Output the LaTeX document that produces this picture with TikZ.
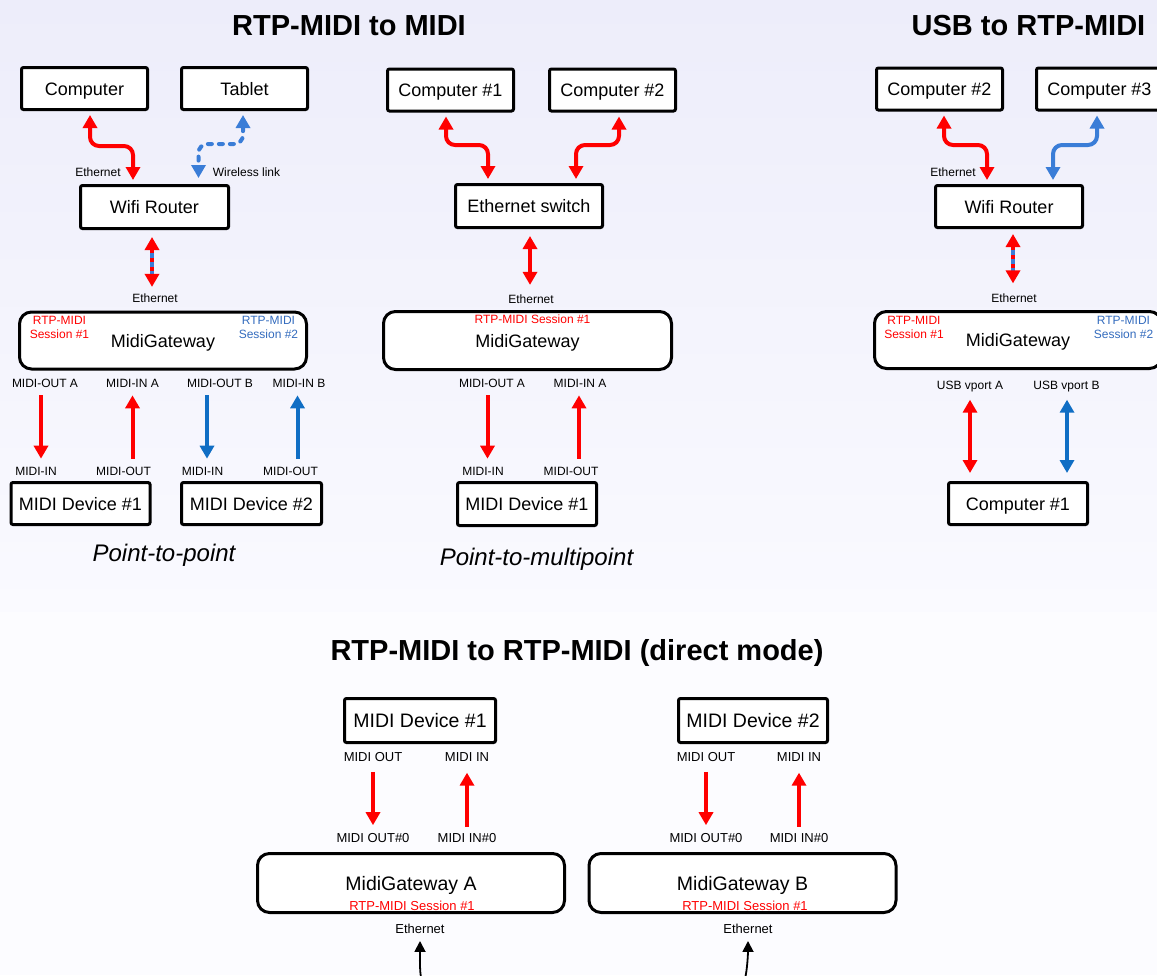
\documentclass[tikz,border=0pt]{standalone}
\usepackage{fontspec}
\setmainfont{Liberation Sans}
\usetikzlibrary{arrows.meta}
\definecolor{midired}{RGB}{255,0,0}
\definecolor{linkblue}{RGB}{58,125,215}
\definecolor{portblue}{RGB}{16,110,196}
\definecolor{sessblue}{RGB}{52,108,190}
\definecolor{bgtop}{RGB}{237,237,250}
\definecolor{bgmid}{RGB}{250,250,255}
\definecolor{bgbot}{RGB}{252,252,255}

\begin{document}
\begin{tikzpicture}[x=1pt, y=-1pt, >={Triangle[width=14pt,length=13pt]},
    box/.style={draw, line width=3pt, fill=white, rounded corners=2pt, inner sep=0pt,
      minimum width=126pt, minimum height=42pt, text height=13pt, text depth=0pt,
      font=\fontsize{18}{21}\selectfont},
    bigbox/.style={box, minimum height=44pt, text height=14pt, font=\fontsize{19.5}{23}\selectfont},
    gateway/.style={draw, line width=3pt, fill=white, rounded corners=12pt, inner sep=0pt,
      minimum width=287pt, minimum height=57pt, text height=13pt, text depth=0pt,
      font=\fontsize{18}{21}\selectfont},
    biggateway/.style={gateway, minimum width=307pt, minimum height=59pt, text height=14pt,
      font=\fontsize{19.5}{23}\selectfont},
    lbl/.style={inner sep=0pt, font=\fontsize{12}{14}\selectfont},
    lblb/.style={inner sep=0pt, font=\fontsize{13}{15}\selectfont},
    session/.style={lbl, align=center},
    title/.style={inner sep=0pt, anchor=base, font=\fontsize{29}{33}\selectfont\bfseries},
    caption/.style={inner sep=0pt, anchor=base, font=\fontsize{24}{28}\selectfont\itshape},
    fat/.style={line width=4pt, ->},
    dbl/.style={line width=4pt, <->},
    bent/.style={dbl, rounded corners=9pt, shorten <=4pt, shorten >=4pt},
    port/.style={fat, shorten <=8pt, shorten >=8pt},
    stripe/.style={line width=4pt, linkblue, shorten <=16pt, shorten >=16pt},
    wire/.style={line width=1.8pt, -{Triangle[width=11pt,length=11pt]}, shorten >=7pt}]

  \useasboundingbox (0,0) rectangle (1157,975);
  \clip (0,0) rectangle (1157,975);
  \fill[top color=bgtop, bottom color=bgmid] (0,0) rectangle (1157,612);
  \fill[bgbot] (0,612) rectangle (1157,975);

  \node[title] (ttl1) at (349,35) {RTP-MIDI to MIDI};
  \node[title] (ttl2) at (1028.5,35) {USB to RTP-MIDI};
  \node[title] (ttl3) at (577,660) {RTP-MIDI to RTP-MIDI (direct mode)};

  % point-to-point
  \node[box] (comp) at (84.5,88.5) {Computer};
  \node[box] (tablet) at (244.5,88.5) {Tablet};
  \node[box, minimum width=148pt, minimum height=43pt] (router) at (154.5,207) {Wifi Router};
  \node[gateway] (gw1) at (163,340.5) {MidiGateway};
  \node[box, minimum width=139pt] (dev1) at (80.5,503.5) {MIDI Device \#1};
  \node[box, minimum width=140pt] (dev2) at (251.5,503.5) {MIDI Device \#2};
  \node[lbl] (eth1) at (98,172) {Ethernet};
  \node[lbl] (wless) at (246.5,172) {Wireless link};
  \node[lbl] (eth2) at (155,298) {Ethernet};
  \node[session, midired] (s11) at (59.5,327) {RTP-MIDI\\Session \#1};
  \node[session, sessblue] (s12) at (268.5,327) {RTP-MIDI\\Session \#2};
  \node[lbl] (outA) at (45,383) {MIDI-OUT A};
  \node[lbl] (inA) at (132.5,383) {MIDI-IN A};
  \node[lbl] (outB) at (220,383) {MIDI-OUT B};
  \node[lbl] (inB) at (299,383) {MIDI-IN B};
  \node[lbl] (in1) at (36,471) {MIDI-IN};
  \node[lbl] (out1) at (123.5,471) {MIDI-OUT};
  \node[lbl] (in2) at (202.5,471) {MIDI-IN};
  \node[lbl] (out2) at (290.5,471) {MIDI-OUT};
  \node[caption] (cap1) at (164,561) {Point-to-point};

  \draw[bent, midired] ([xshift=5.5pt]comp.south) |- ([xshift=-21.5pt,yshift=38pt]router.north)
    -- ([xshift=-21.5pt]router.north);
  \draw[bent, linkblue, line cap=round, dash pattern=on 4pt off 7pt, shorten >=6pt]
    ([xshift=-1.5pt]tablet.south) |- ([xshift=44pt,yshift=40pt]router.north) -- ([xshift=44pt]router.north);
  \draw[stripe] ([xshift=-2.5pt]router.south) -- ([xshift=-3pt]eth2.north);
  \draw[dbl, midired, dash pattern=on 4pt off 5pt, shorten <=7pt, shorten >=6.5pt]
    ([xshift=-2.5pt]router.south) -- ([xshift=-3pt]eth2.north);
  \draw[port, midired] ([xshift=-4pt]outA.south) -- ([xshift=5pt]in1.north);
  \draw[port, midired] ([xshift=9pt]out1.north) -- (inA.south);
  \draw[port, portblue] ([xshift=-13pt]outB.south) -- ([xshift=4.5pt]in2.north);
  \draw[port, portblue] ([xshift=7pt]out2.north) -- ([xshift=-1.5pt]inB.south);

  % point-to-multipoint
  \node[box] (comp1) at (450.5,90) {Computer \#1};
  \node[box] (comp2) at (612.5,90) {Computer \#2};
  \node[box, minimum width=147pt, minimum height=43pt] (switch) at (529,206) {Ethernet switch};
  \node[gateway, minimum width=288pt, minimum height=58pt] (gw2) at (527.5,340.5) {MidiGateway};
  \node[box, minimum width=139pt, minimum height=43pt] (dev3) at (527,504) {MIDI Device \#1};
  \node[lbl] (eth3) at (531,299) {Ethernet};
  \node[lbl, midired] (s21) at (532.5,319) {RTP-MIDI Session \#1};
  \node[lbl] (outAm) at (492,383) {MIDI-OUT A};
  \node[lbl] (inAm) at (580,383) {MIDI-IN A};
  \node[lbl] (in3) at (483,471) {MIDI-IN};
  \node[lbl] (out3) at (571,471) {MIDI-OUT};
  \node[caption] (cap2) at (536.5,565) {Point-to-multipoint};

  \draw[bent, midired] ([xshift=-4.5pt]comp1.south) |- ([xshift=-41pt,yshift=38pt]switch.north)
    -- ([xshift=-41pt]switch.north);
  \draw[bent, midired] ([xshift=6.5pt]comp2.south) |- ([xshift=47pt,yshift=38pt]switch.north)
    -- ([xshift=47pt]switch.north);
  \draw[dbl, midired, shorten <=7pt, shorten >=9.5pt] ([xshift=1pt]switch.south) -- ([xshift=-1pt]eth3.north);
  \draw[port, midired] ([xshift=-4.5pt]outAm.south) -- ([xshift=4.5pt]in3.north);
  \draw[port, midired] ([xshift=8pt]out3.north) -- ([xshift=-1pt]inAm.south);

  % usb to rtp-midi
  \node[box] (comp2r) at (939.5,89) {Computer \#2};
  \node[box] (comp3r) at (1099.5,89) {Computer \#3};
  \node[box, minimum width=147pt] (router2) at (1009,206.5) {Wifi Router};
  \node[gateway] (gw3) at (1018,340) {MidiGateway};
  \node[box, minimum width=139pt] (comp1r) at (1018,503.5) {Computer \#1};
  \node[lbl] (eth4) at (953,172) {Ethernet};
  \node[lbl] (eth5) at (1014,298) {Ethernet};
  \node[session, midired] (s31) at (914,327) {RTP-MIDI\\Session \#1};
  \node[session, sessblue] (s32) at (1123.5,327) {RTP-MIDI\\Session \#2};
  \node[lbl, anchor=base] (usbA) at (970,389) {USB vport A};
  \node[lbl, anchor=base] (usbB) at (1066.5,389) {USB vport B};

  \draw[bent, midired] ([xshift=4.5pt]comp2r.south) |- ([xshift=-22pt,yshift=39pt]router2.north)
    -- ([xshift=-22pt]router2.north);
  \draw[bent, linkblue] ([xshift=-2.5pt]comp3r.south) |- ([xshift=44pt,yshift=39pt]router2.north)
    -- ([xshift=44pt]router2.north);
  \draw[stripe] ([xshift=4pt]router2.south) -- ([xshift=-1pt]eth5.north);
  \draw[dbl, midired, dash pattern=on 4pt off 5pt, shorten <=5pt, shorten >=10pt]
    ([xshift=4pt]router2.south) -- ([xshift=-1pt]eth5.north);
  \draw[dbl, midired, shorten <=8pt, shorten >=8pt] (usbA.south) -- ([xshift=-48pt]comp1r.north);
  \draw[dbl, portblue, shorten <=8pt, shorten >=8pt] ([xshift=0.5pt]usbB.south) -- ([xshift=49pt]comp1r.north);

  % direct mode
  \node[bigbox, minimum width=151pt] (mdev1) at (420,720.5) {MIDI Device \#1};
  \node[bigbox, minimum width=149pt] (mdev2) at (753,720.5) {MIDI Device \#2};
  \node[biggateway] (gwA) at (411,883) {MidiGateway A};
  \node[biggateway] (gwB) at (742.5,883) {MidiGateway B};
  \node[lblb, midired] (sesA) at (412,906) {RTP-MIDI Session \#1};
  \node[lblb, midired] (sesB) at (745,906) {RTP-MIDI Session \#1};
  \node[lblb] (moA) at (373,757) {MIDI OUT};
  \node[lblb] (miA) at (467,757) {MIDI IN};
  \node[lblb] (mo0A) at (373,838) {MIDI OUT\#0};
  \node[lblb] (mi0A) at (467,838) {MIDI IN\#0};
  \node[lblb] (moB) at (706,757) {MIDI OUT};
  \node[lblb] (miB) at (799,757) {MIDI IN};
  \node[lblb] (mo0B) at (706,838) {MIDI OUT\#0};
  \node[lblb] (mi0B) at (799,838) {MIDI IN\#0};
  \node[lblb] (ethA) at (420,929) {Ethernet};
  \node[lblb] (ethB) at (748,929) {Ethernet};
  \coordinate (lanA) at (423,985);
  \coordinate (lanB) at (743,985);

  \draw[port, midired, shorten <=10pt] (moA.south) -- (mo0A.north);
  \draw[port, midired, shorten <=6.5pt, shorten >=11pt] (mi0A.north) -- (miA.south);
  \draw[port, midired, shorten <=10pt] (moB.south) -- (mo0B.north);
  \draw[port, midired, shorten <=6.5pt, shorten >=11pt] (mi0B.north) -- (miB.south);
  \draw[wire] (lanA) .. controls +(-4,-8) and +(0,20) .. (ethA.south);
  \draw[wire] (lanB) .. controls +(4,-8) and +(0,20) .. (ethB.south);
\end{tikzpicture}
\end{document}
